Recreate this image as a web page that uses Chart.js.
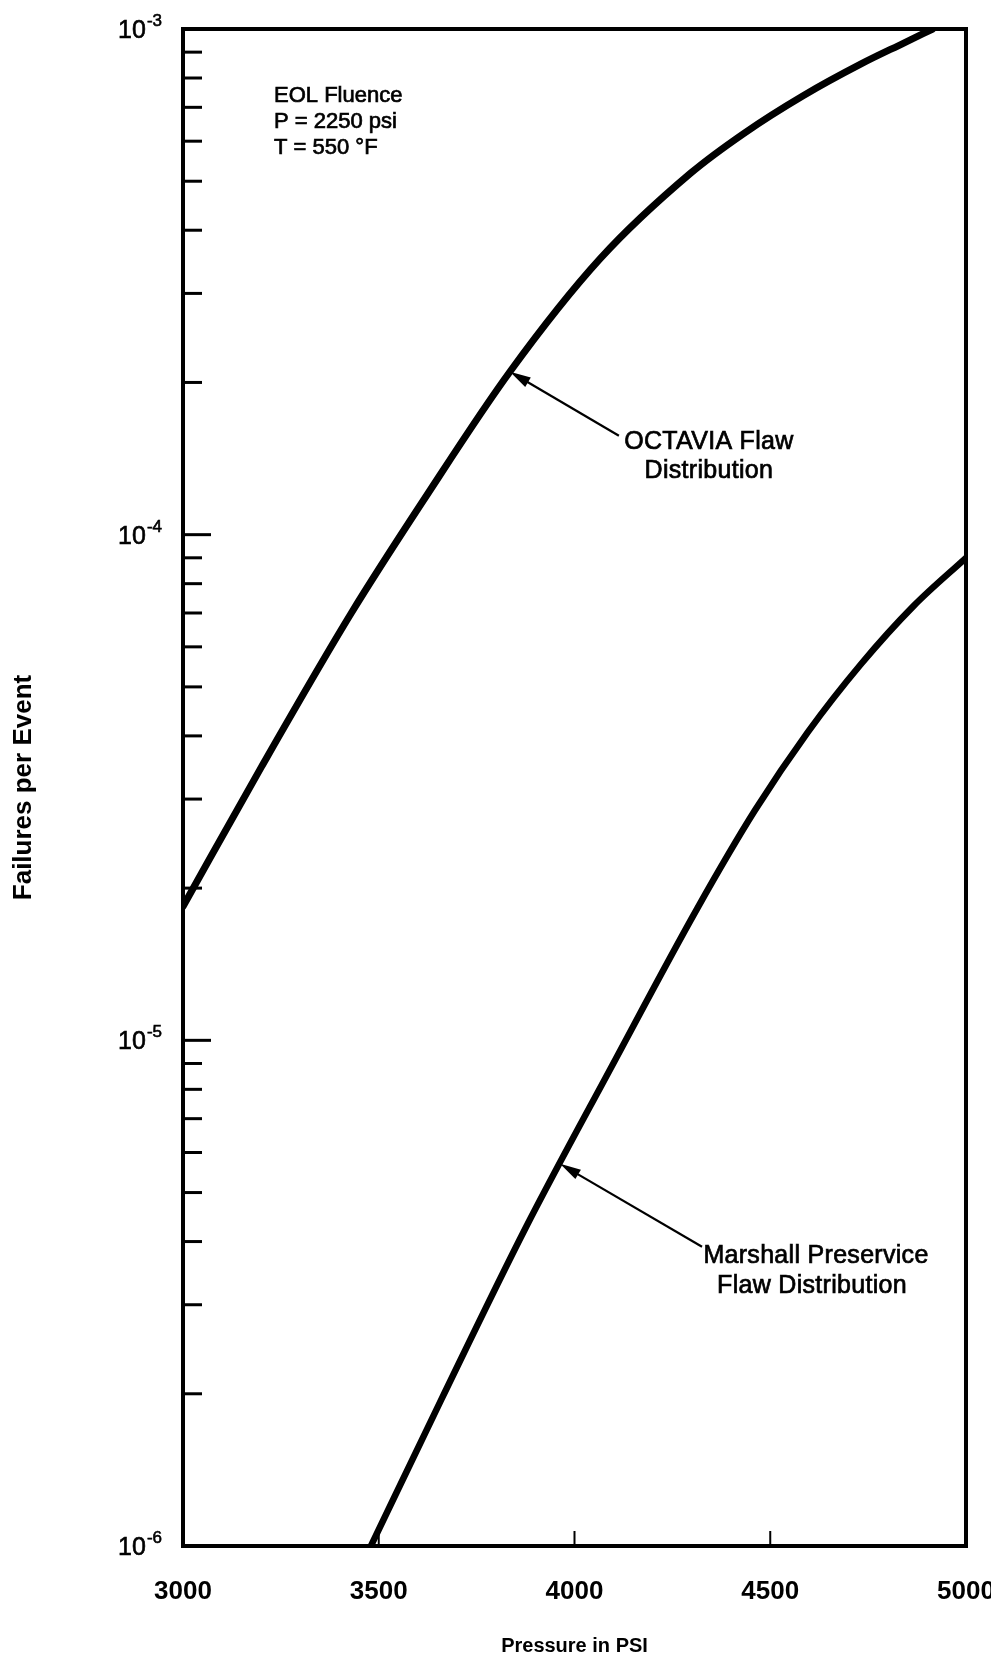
<!DOCTYPE html>
<html>
<head>
<meta charset="utf-8">
<script src="https://cdn.jsdelivr.net/npm/chart.js@4.4.1/dist/chart.umd.min.js"></script>
<style>
    html, body { margin: 0; padding: 0; background: #fff; }
    #wrap { width: 991px; height: 1667px; }
</style>
</head>
<body>
<div id="wrap"><canvas id="fallas" width="991" height="1667"></canvas></div>
<script>
// curva superior: distribucion de defectos OCTAVIA
const octaviaPsi = [3000, 3200, 3430, 3616, 3835, 4065, 4297, 4433, 4584, 4732, 4841, 4915];
const octaviaFallas = [1.84e-5, 3.47e-5, 7.0e-5, 1.175e-4, 2.1e-4, 3.51e-4, 5.19e-4, 6.22e-4, 7.38e-4, 8.53e-4, 9.38e-4, 1.0e-3];

// curva inferior: Marshall preservice
const marshallPsi = [3480, 3660, 3876, 4096, 4313, 4461, 4596, 4732, 4867, 5000];
const marshallFallas = [1.0e-6, 1.95e-6, 4.27e-6, 8.91e-6, 1.82e-5, 2.85e-5, 4.07e-5, 5.55e-5, 7.24e-5, 9.0e-5];

const psiTicks = [3000, 3500, 4000, 4500, 5000];
const decadas = [1e-3, 1e-4, 1e-5, 1e-6];
const exponentes = ["-3", "-4", "-5", "-6"];
const condiciones = ["EOL Fluence", "P = 2250 psi", "T = 550 \u00B0F"];
const rotuloOctavia = ["OCTAVIA Flaw", "Distribution"];
const rotuloMarshall = ["Marshall Preservice", "Flaw Distribution"];

const FONT = "'Liberation Sans', Arial, Helvetica, sans-serif";

function puntos(xs, ys) {
    return xs.map(function (v, i) { return { x: v, y: ys[i] }; });
}

// texto un poco mas grueso, como el tipo del original
function texto(ctx, t, x, y) {
    ctx.fillText(t, x, y);
    ctx.strokeText(t, x, y);
}

function flecha(ctx, x0, y0, x1, y1) {
    const ang = Math.atan2(y1 - y0, x1 - x0);
    ctx.lineWidth = 2.2;
    ctx.beginPath();
    ctx.moveTo(x0, y0);
    ctx.lineTo(x1 - 10 * Math.cos(ang), y1 - 10 * Math.sin(ang));
    ctx.stroke();
    ctx.beginPath();
    ctx.moveTo(x1, y1);
    ctx.lineTo(x1 - 21 * Math.cos(ang) + 5.5 * Math.sin(ang), y1 - 21 * Math.sin(ang) - 5.5 * Math.cos(ang));
    ctx.lineTo(x1 - 21 * Math.cos(ang) - 5.5 * Math.sin(ang), y1 - 21 * Math.sin(ang) + 5.5 * Math.cos(ang));
    ctx.closePath();
    ctx.fill();
}

const marcoYNotas = {
    id: "marcoYNotas",
    afterDraw(chart) {
        const ctx = chart.ctx;
        const a = chart.chartArea;
        const sx = chart.scales.x;
        const sy = chart.scales.y;
        ctx.save();
        ctx.strokeStyle = "#000";
        ctx.fillStyle = "#000";

        // marcas logaritmicas sobre el borde izquierdo
        ctx.lineWidth = 3;
        for (let e = -6; e < -3; e++) {
            for (let m = 1; m <= 9; m++) {
                const py = sy.getPixelForValue(m * Math.pow(10, e));
                const largo = m === 1 ? 28 : 19;
                ctx.beginPath();
                ctx.moveTo(a.left, py);
                ctx.lineTo(a.left + largo, py);
                ctx.stroke();
            }
        }

        // marcas cortas del eje x
        ctx.lineWidth = 2;
        [3500, 4000, 4500].forEach(function (p) {
            const px = sx.getPixelForValue(p);
            ctx.beginPath();
            ctx.moveTo(px, a.bottom);
            ctx.lineTo(px, a.bottom - 15);
            ctx.stroke();
        });

        // marco
        ctx.lineWidth = 4;
        ctx.strokeRect(a.left, a.top, a.right - a.left, a.bottom - a.top);

        // rotulos 10^n
        ctx.lineWidth = 0.6;
        decadas.forEach(function (d, i) {
            const py = sy.getPixelForValue(d);
            const derecha = a.left - 21;
            ctx.font = "17px " + FONT;
            const wSup = ctx.measureText(exponentes[i]).width;
            ctx.textAlign = "left";
            ctx.textBaseline = "alphabetic";
            texto(ctx, exponentes[i], derecha - wSup, py - 3);
            ctx.font = "25px " + FONT;
            ctx.textAlign = "right";
            texto(ctx, "10", derecha - wSup - 1, py + 9);
        });

        // condiciones del calculo
        ctx.lineWidth = 0.7;
        ctx.font = "22px " + FONT;
        ctx.textAlign = "left";
        ctx.textBaseline = "middle";
        condiciones.forEach(function (t, i) {
            texto(ctx, t, a.left + 91, a.top + 67 + i * 26);
        });

        // flechas y rotulos de las curvas
        const tO = { x: sx.getPixelForValue(3835), y: sy.getPixelForValue(2.1e-4) };
        const tM = { x: sx.getPixelForValue(3963), y: sy.getPixelForValue(5.7e-6) };
        flecha(ctx, tO.x + 109, tO.y + 64, tO.x, tO.y);
        flecha(ctx, tM.x + 142, tM.y + 83, tM.x, tM.y);

        ctx.font = "25px " + FONT;
        ctx.textAlign = "center";
        ctx.lineWidth = 0.7;
        if ("letterSpacing" in ctx) ctx.letterSpacing = "0.3px";
        texto(ctx, rotuloOctavia[0], tO.x + 199, tO.y + 70);
        texto(ctx, rotuloOctavia[1], tO.x + 199, tO.y + 99);
        texto(ctx, rotuloMarshall[0], tM.x + 256, tM.y + 92);
        texto(ctx, rotuloMarshall[1], tM.x + 252, tM.y + 122);

        ctx.restore();
    },
};

new Chart(document.getElementById("fallas"), {
    type: "line",
    data: {
        datasets: [
            {
                label: "OCTAVIA Flaw Distribution",
                data: puntos(octaviaPsi, octaviaFallas),
                borderColor: "#000",
                borderWidth: 7,
                pointRadius: 0,
                cubicInterpolationMode: "monotone",
                borderCapStyle: "round",
                fill: false,
            },
            {
                label: "Marshall Preservice Flaw Distribution",
                data: puntos(marshallPsi, marshallFallas),
                borderColor: "#000",
                borderWidth: 6.5,
                pointRadius: 0,
                cubicInterpolationMode: "monotone",
                borderCapStyle: "round",
                fill: false,
            },
        ],
    },
    options: {
        responsive: false,
        animation: false,
        layout: { padding: { left: 8, top: 29, right: 25, bottom: 0 } },
        scales: {
            x: {
                type: "linear",
                min: 3000,
                max: 5000,
                afterBuildTicks: function (scale) {
                    scale.ticks = psiTicks.map(function (v) { return { value: v }; });
                },
                afterFit: function (scale) {
                    scale.height = 121;
                    scale.paddingLeft = 0;
                    scale.paddingRight = 0;
                },
                grid: { display: false, drawTicks: false },
                border: { display: false },
                ticks: {
                    maxRotation: 0,
                    autoSkip: false,
                    padding: 30,
                    color: "#000",
                    font: { family: FONT, size: 26, weight: "bold" },
                    callback: function (v) { return String(v); },
                },
                title: {
                    display: true,
                    text: "Pressure in PSI",
                    color: "#000",
                    font: { family: FONT, size: 20, weight: "bold" },
                    padding: { top: 0, bottom: 9 },
                },
            },
            y: {
                type: "logarithmic",
                min: 1e-6,
                max: 1e-3,
                afterFit: function (scale) {
                    scale.width = 175;
                },
                grid: { display: false, drawTicks: false },
                border: { display: false },
                ticks: { display: false },
                title: {
                    display: true,
                    text: "Failures per Event",
                    color: "#000",
                    font: { family: FONT, size: 26, weight: "bold" },
                    padding: { top: 0, bottom: 0 },
                },
            },
        },
        plugins: {
            legend: { display: false },
            tooltip: { enabled: false },
        },
    },
    plugins: [marcoYNotas],
});
</script>
</body>
</html>
